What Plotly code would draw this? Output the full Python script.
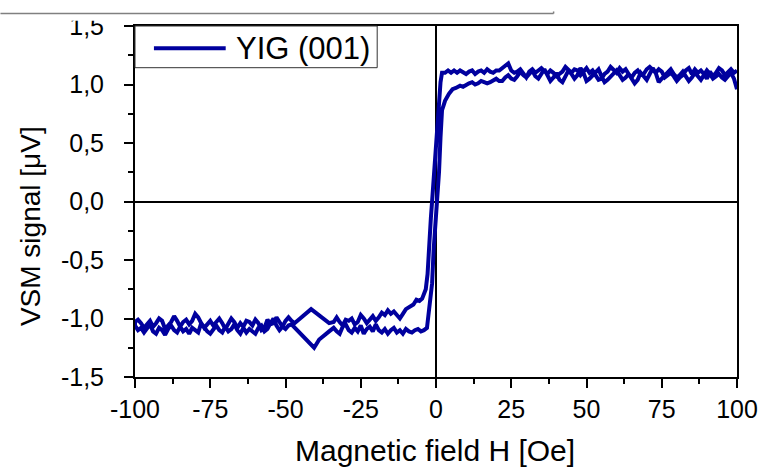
import plotly.graph_objects as go

# ---------------- data ----------------
series_name = "YIG (001)"

# descending branch: H from +100 down to -100 (1 Oe sampling in the flat parts)
H_desc_pos = list(range(100, 5, -1))
M_desc_pos = [1.12, 1.10, 1.13, 1.11, 1.08, 1.12, 1.14, 1.10, 1.07, 1.11,
              1.05, 1.09, 1.12, 1.10, 1.13, 1.09, 1.14, 1.12, 1.08, 1.06,
              1.03, 1.07, 1.10, 1.08, 1.06, 1.11, 1.13, 1.10, 1.12, 1.15,
              1.13, 1.09, 1.08, 1.12, 1.10, 1.06, 1.09, 1.13, 1.11, 1.14,
              1.10, 1.13, 1.15, 1.11, 1.09, 1.05, 1.04, 1.08, 1.12, 1.10,
              1.14, 1.11, 1.08, 1.12, 1.13, 1.10, 1.12, 1.15, 1.11, 1.09,
              1.07, 1.10, 1.12, 1.09, 1.11, 1.14, 1.12, 1.10, 1.13, 1.11,
              1.06, 1.09, 1.13, 1.11, 1.10, 1.12, 1.18, 1.16, 1.14, 1.12,
              1.12, 1.10, 1.11, 1.13, 1.10, 1.12, 1.11, 1.09, 1.12, 1.11,
              1.09, 1.11, 1.12, 1.10, 1.12]
H_desc_sw = [5, 4, 3, 2, 1.5, 1, 0.5, 0, -0.5, -1, -1.3, -1.7, -2, -2.3, -2.8, -3.4, -4, -4.6,
             -5.5, -6.5, -7.5, -8.5]
M_desc_sw = [1.10, 1.12, 1.10, 1.10, 1.02, 0.85, 0.70, 0.55, 0.35, 0.15, 0.00, -0.14, -0.28,
             -0.42, -0.62, -0.75, -0.80, -0.83, -0.85, -0.84, -0.88, -0.90]
H_desc_mid = list(range(-10, -35, -1)) + [-35.5, -41.5, -47]
M_desc_mid = [-0.92, -0.96, -1.00, -0.97, -0.94, -0.96, -0.93, -0.97, -0.95, -0.99,
              -1.02, -0.98, -1.01, -1.04, -1.00, -0.97, -1.03, -1.05, -1.00, -1.02,
              -1.01, -1.06, -1.03, -0.99, -1.03, -1.04, -0.92, -1.04]
H_desc_neg = list(range(-48, -101, -1))
M_desc_neg = [-1.02, -0.99, -1.02, -1.07, -1.03, -0.99, -1.04, -1.05, -1.01, -1.08,
              -1.10, -1.04, -1.01, -1.06, -1.03, -1.02, -1.07, -1.04, -1.08, -1.03,
              -1.00, -1.05, -1.09, -1.04, -1.00, -1.03, -1.06, -1.02, -1.05, -1.08,
              -1.04, -0.99, -0.96, -1.02, -1.05, -1.01, -1.03, -1.07, -1.02, -0.98,
              -1.03, -1.06, -1.09, -1.02, -1.00, -1.04, -1.07, -1.02, -1.05, -1.08,
              -1.04, -1.01, -1.03]

# ascending branch: H from -100 up to +100
H_asc_neg = list(range(-100, -47)) + [-40.5, -38.8, -35.5]
M_asc_neg = [-1.06, -1.10, -1.08, -1.12, -1.09, -1.05, -1.11, -1.13, -1.08, -1.10,
             -1.14, -1.09, -1.06, -1.10, -1.12, -1.07, -1.11, -1.09, -1.13, -1.08,
             -1.10, -1.12, -1.04, -1.08, -1.11, -1.13, -1.09, -1.06, -1.10, -1.12,
             -1.07, -1.11, -1.09, -1.05, -1.10, -1.13, -1.08, -1.12, -1.09, -1.11,
             -1.13, -1.08, -1.06, -1.11, -1.09, -1.04, -1.00, -1.06, -1.10, -1.07,
             -1.09, -1.06, -1.05, -1.25, -1.18, -1.11]
H_asc_mid = list(range(-34, -3))
M_asc_mid = [-1.08, -1.11, -1.13, -1.07, -1.05, -1.10, -1.12, -1.08, -1.11, -1.06,
             -1.13, -1.09, -1.07, -1.11, -1.05, -1.10, -1.12, -1.09, -1.13, -1.10,
             -1.08, -1.12, -1.10, -1.13, -1.09, -1.11, -1.12, -1.10, -1.09, -1.11,
             -1.10]
H_asc_sw = [-3, -2.5, -2, -1.5, -1.3, -0.8, 0, 0.6, 1, 1.5, 2, 2.5, 3, 4.3, 5.5, 6.6]
M_asc_sw = [-1.08, -0.95, -0.85, -0.72, -0.70, -0.42, -0.14, 0.00, 0.25, 0.55, 0.78, 0.82,
            0.86, 0.92, 0.96, 0.97]
H_asc_pos = list(range(8, 101))
M_asc_pos = [0.99, 0.98, 1.00, 1.01, 1.02, 1.00, 1.01, 1.03, 1.02, 1.01,
             1.02, 1.04, 1.05, 1.03, 1.03, 1.06, 1.08, 1.05, 1.04, 1.07,
             1.11, 1.08, 1.06, 1.09, 1.12, 1.07, 1.05, 1.09, 1.13, 1.08,
             1.03, 1.06, 1.10, 1.04, 1.02, 1.07, 1.12, 1.09, 1.05, 1.08,
             1.14, 1.10, 1.03, 1.05, 1.08, 1.11, 1.13, 1.07, 1.02, 1.04,
             1.07, 1.10, 1.12, 1.08, 1.04, 1.06, 1.09, 1.05, 1.01, 1.04,
             1.10, 1.07, 1.04, 1.09, 1.14, 1.10, 1.02, 1.05, 1.08, 1.11,
             1.13, 1.09, 1.06, 1.08, 1.11, 1.07, 1.03, 1.06, 1.10, 1.07,
             1.04, 1.08, 1.12, 1.09, 1.05, 1.07, 1.09, 1.06, 1.04, 1.07,
             1.10, 1.05, 0.96]

x_tickvals = [-100, -75, -50, -25, 0, 25, 50, 75, 100]
x_ticktext = ["-100", "-75", "-50", "-25", "0", "25", "50", "75", "100"]
x_minorvals = [-87.5, -62.5, -37.5, -12.5, 12.5, 37.5, 62.5, 87.5]
y_tickvals = [-1.5, -1.0, -0.5, 0.0, 0.5, 1.0, 1.5]
y_ticktext = ["-1,5", "-1,0", "-0,5", "0,0", "0,5", "1,0", "1,5"]
y_minorvals = [-1.25, -0.75, -0.25, 0.25, 0.75, 1.25]

x_title = "Magnetic field H [Oe]"
y_title = "VSM signal [μV]"

H_all = H_desc_pos + H_desc_sw + H_desc_mid + H_desc_neg + H_asc_neg + H_asc_mid + H_asc_sw + H_asc_pos
M_all = M_desc_pos + M_desc_sw + M_desc_mid + M_desc_neg + M_asc_neg + M_asc_mid + M_asc_sw + M_asc_pos

# ---------------- layout geometry ----------------
W, HGT = 770, 469
L, R, T, B = 135, 31, 15, 92
PW, PH = W - L - R, HGT - T - B
BOTTOM = HGT - B


def px(xp):
    return (xp - L) / PW


def py(yp):
    return (BOTTOM - yp) / PH


FONT = "Liberation Sans, Arial, sans-serif"
LINE_COLOR = "#00009E"

fig = go.Figure()
fig.add_trace(go.Scatter(
    x=H_all, y=M_all, mode="lines", name=series_name,
    line=dict(color=LINE_COLOR, width=4), showlegend=False))

axis_common = dict(
    showline=True, linecolor="black", linewidth=2, mirror=True,
    ticks="outside", ticklen=9, tickwidth=1.5, tickcolor="black",
    showgrid=False, zeroline=True, zerolinecolor="black", zerolinewidth=1.5,
    tickfont=dict(family=FONT, size=25, color="black"),
)

fig.update_xaxes(range=[-100, 100], tickmode="array", tickvals=x_tickvals, ticktext=x_ticktext,
                 minor=dict(tickmode="array", tickvals=x_minorvals, ticks="outside", ticklen=5,
                            tickwidth=1.5, tickcolor="black"),
                 ticklabelstandoff=0, **axis_common)
fig.update_yaxes(range=[-1.5, 1.5], tickmode="array", tickvals=y_tickvals, ticktext=y_ticktext,
                 minor=dict(tickmode="array", tickvals=y_minorvals, ticks="outside", ticklen=5,
                            tickwidth=1.5, tickcolor="black"),
                 ticklabelstandoff=15, **axis_common)

shapes = [
    dict(type="rect", xref="paper", yref="paper", x0=0, x1=px(378), y0=py(58), y1=1,
         line=dict(color="#333333", width=1), fillcolor="white", layer="above"),
    dict(type="line", xref="paper", yref="paper", x0=px(154), x1=px(226), y0=py(38), y1=py(38),
         line=dict(color=LINE_COLOR, width=4), layer="above"),
    dict(type="rect", xref="paper", yref="paper", x0=px(40), x1=px(128), y0=py(9.5), y1=py(0),
         line=dict(width=0), fillcolor="white", layer="above"),
    dict(type="line", xref="paper", yref="paper", x0=px(0), x1=px(555), y0=py(2.2), y1=py(2.2),
         line=dict(color="#808080", width=1.5), layer="above"),
    dict(type="line", xref="paper", yref="paper", x0=px(555), x1=px(555), y0=py(2.2), y1=py(0),
         line=dict(color="#808080", width=1.5), layer="above"),
]

annotations = [
    dict(text=series_name, xref="paper", yref="paper", x=px(234), y=py(38), xanchor="left",
         yanchor="middle", showarrow=False, font=dict(family=FONT, size=31, color="black")),
    dict(text=x_title, xref="paper", yref="paper", x=px(436), y=py(453), xanchor="center",
         yanchor="middle", showarrow=False, font=dict(family=FONT, size=30, color="black")),
    dict(text=y_title, xref="paper", yref="paper", x=px(30), y=py(221), xanchor="center",
         yanchor="middle", showarrow=False, textangle=-90,
         font=dict(family=FONT, size=28, color="black")),
]

fig.update_layout(
    width=W, height=HGT, margin=dict(l=L, r=R, t=T, b=B, pad=0),
    paper_bgcolor="white", plot_bgcolor="white", showlegend=False,
    shapes=shapes, annotations=annotations,
    font=dict(family=FONT, color="black"),
)

fig.write_html("out.html")
